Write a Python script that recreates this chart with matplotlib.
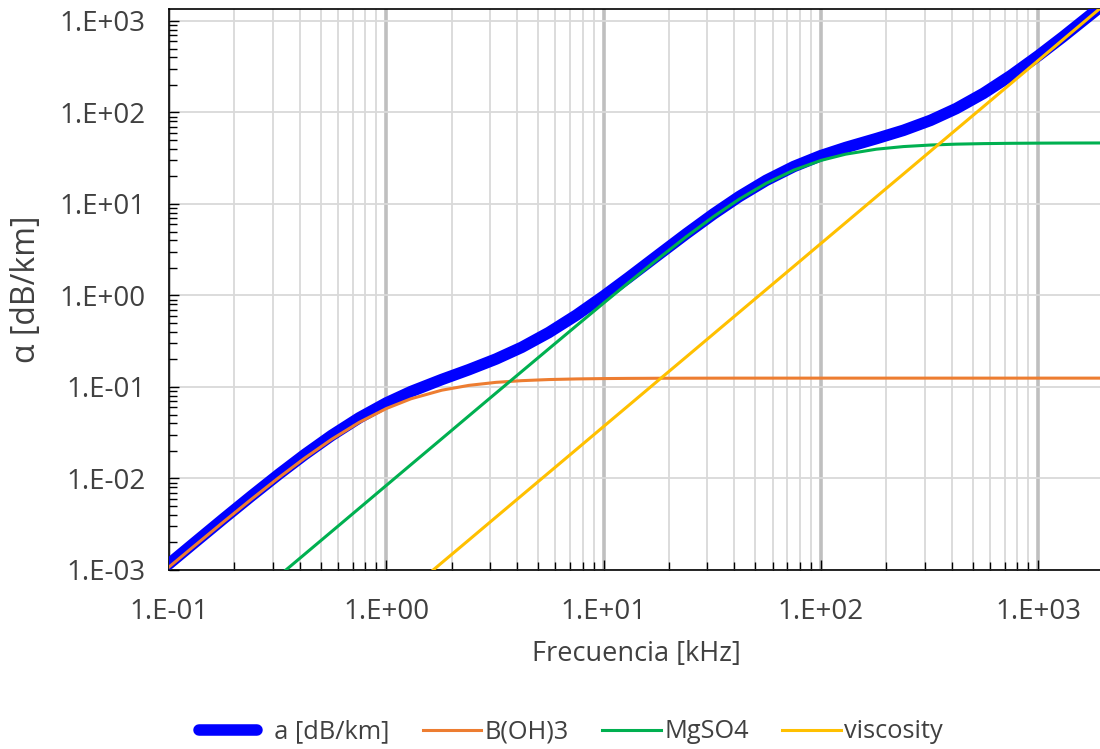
import matplotlib.pyplot as plt
import numpy as np

# frequency [kHz] and absorption components [dB/km]
freq = [0.1, 0.13, 0.18, 0.24, 0.32, 0.42, 0.56, 0.75, 1.0, 1.3, 1.8, 2.4,
        3.2, 4.2, 5.6, 7.5, 10, 13, 18, 24, 32, 42, 56, 75, 100, 130, 180,
        240, 320, 420, 560, 750, 1000, 1300, 1800, 2000]

boric = [1.078e-3, 1.810e-3, 3.425e-3, 5.962e-3, 0.01022, 0.01662, 0.02678,
         0.04106, 0.05814, 0.07438, 0.09226, 0.1042, 0.1124, 0.1173, 0.1206,
         0.1225, 0.1236, 0.1242, 0.1246, 0.1248, 0.1249, 0.125, 0.125, 0.125,
         0.125, 0.125, 0.125, 0.125, 0.125, 0.125, 0.125, 0.125, 0.125, 0.125,
         0.125, 0.125]

mgso4 = [8.40e-5, 1.42e-4, 2.72e-4, 4.84e-4, 8.60e-4, 1.48e-3, 2.63e-3,
         4.72e-3, 8.40e-3, 0.0142, 0.0272, 0.0484, 0.0860, 0.1477, 0.2619,
         0.4677, 0.8251, 1.3775, 2.571, 4.382, 7.259, 11.24, 16.82, 23.44,
         29.93, 35.03, 39.71, 42.42, 44.11, 45.09, 45.69, 46.05, 46.24, 46.35,
         46.42, 46.44]

viscosity = [3.7e-6, 6.25e-6, 1.20e-5, 2.13e-5, 3.79e-5, 6.53e-5, 1.16e-4,
             2.08e-4, 3.7e-4, 6.25e-4, 1.20e-3, 2.13e-3, 3.79e-3, 6.53e-3,
             0.0116, 0.0208, 0.037, 0.0625, 0.120, 0.213, 0.379, 0.653, 1.16,
             2.08, 3.70, 6.25, 12.0, 21.3, 37.9, 65.3, 116, 208, 370, 625,
             1199, 1480]

total = [1.166e-3, 1.958e-3, 3.709e-3, 6.467e-3, 0.01112, 0.01817, 0.02953,
         0.04599, 0.06691, 0.08921, 0.1207, 0.1547, 0.2022, 0.2715, 0.3941,
         0.611, 0.9857, 1.564, 2.816, 4.72, 7.763, 12.02, 18.11, 25.65, 33.76,
         41.41, 51.84, 63.85, 82.14, 110.5, 161.8, 254.2, 416.4, 671.5,
         1245.5, 1526.6]

labels = ['a [dB/km]', 'B(OH)3', 'MgSO4', 'viscosity']

plt.rcParams['font.family'] = ['Open Sans', 'DejaVu Sans']

fig = plt.figure(figsize=(11, 7.49), dpi=100)
ax = fig.add_axes([169 / 1100, 179 / 749, 934.6 / 1100, 561 / 749])

ax.plot(freq, total, color='#0000FF', lw=8.3, solid_capstyle='round', label='  ' + labels[0], zorder=3)
ax.plot(freq, boric, color='#ED7D31', lw=2.2, label=labels[1], zorder=4)
ax.plot(freq, mgso4, color='#00B050', lw=2.2, label=labels[2], zorder=4)
ax.plot(freq, viscosity, color='#FFC000', lw=2.2, label=labels[3], zorder=4)

ax.set_xscale('log')
ax.set_yscale('log')
ax.set_xlim(0.1, 2000)
ax.set_ylim(1e-3, 10 ** 3.131)

# grid: heavy x decades, light x minors and y decades
ax.grid(True, which='major', axis='x', color='#BFBFBF', lw=2.6, zorder=0)
ax.grid(True, which='minor', axis='x', color='#D9D9D9', lw=1.3, zorder=0)
ax.grid(True, which='major', axis='y', color='#D9D9D9', lw=1.3, zorder=0)
ax.set_axisbelow(True)

ax.spines['right'].set_visible(False)
for s in ['left', 'bottom', 'top']:
    ax.spines[s].set_color('black')
    ax.spines[s].set_linewidth(1.2)

ax.tick_params(which='both', direction='in', colors='black', labelcolor='#404040',
               labelsize=20, width=1)
ax.tick_params(axis='x', pad=20)
ax.tick_params(axis='y', pad=17)
ax.tick_params(which='major', length=7)
ax.tick_params(which='minor', length=6)
ax.tick_params(axis='x', top=False, which='both')

xt = [0.1, 1, 10, 100, 1000]
yt = [1e-3, 1e-2, 1e-1, 1, 10, 100, 1000]
ax.set_xticks(xt)
ax.set_xticklabels(['1.E-01', '1.E+00', '1.E+01', '1.E+02', '1.E+03'])
ax.set_yticks(yt)
ax.set_yticklabels(['1.E-03', '1.E-02', '1.E-01', '1.E+00', '1.E+01', '1.E+02', '1.E+03'])
ax.tick_params(axis='y', which='minor', labelleft=False)
ax.tick_params(axis='x', which='minor', labelbottom=False)

ax.set_xlabel('Frecuencia [kHz]', fontsize=19.5, color='#404040', labelpad=10)
ax.set_ylabel('α [dB/km]', fontsize=23, color='#404040', labelpad=12)

fig.legend(loc='center', bbox_to_anchor=(571 / 1100, 1 - 732 / 749), ncol=4,
           frameon=False, fontsize=18.3, handlelength=2.3, handletextpad=0.15,
           columnspacing=1.3, labelcolor='#404040')

fig.savefig('out.png', dpi=100)
